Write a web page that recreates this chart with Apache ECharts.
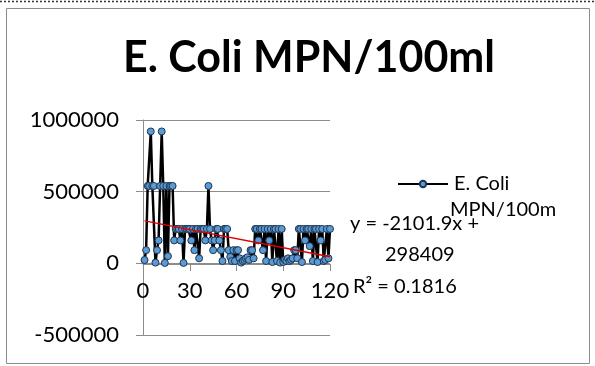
<!DOCTYPE html>
<html>
<head>
<meta charset="utf-8">
<script src="https://cdn.jsdelivr.net/npm/echarts@6/dist/echarts.min.js"></script>
<style>
  html, body { margin: 0; padding: 0; background: #fff; }
  #main { width: 595px; height: 366px; }
</style>
</head>
<body>
<div id="main"></div>
<script>
// sample number (x) and E. Coli MPN/100ml readings
var sampleNo = [];
for (var i = 1; i <= 120; i++) { sampleNo.push(i); }
var ecoli = [
  23000, 92000, 540000, 540000, 920000, 540000, 540000, 5000, 92000, 160000,
  540000, 920000, 540000, 3000, 540000, 50000, 540000, 540000, 540000, 160000,
  240000, 240000, 240000, 160000, 240000, 3000, 240000, 240000, 240000, 240000,
  160000, 240000, 92000, 240000, 240000, 35000, 240000, 240000, 240000, 160000,
  240000, 540000, 240000, 160000, 92000, 160000, 240000, 240000, 160000, 92000,
  16000, 240000, 240000, 240000, 92000, 45000, 16000, 92000, 16000, 92000,
  92000, 35000, 5000, 16000, 24000, 35000, 42000, 24000, 92000, 92000,
  35000, 240000, 240000, 160000, 240000, 240000, 92000, 240000, 16000, 240000,
  160000, 240000, 9000, 240000, 240000, 16000, 240000, 5000, 240000, 9000,
  24000, 16000, 35000, 16000, 24000, 35000, 92000, 92000, 35000, 240000,
  240000, 9000, 240000, 160000, 240000, 240000, 120000, 240000, 16000, 240000,
  240000, 9000, 240000, 160000, 240000, 16000, 24000, 240000, 35000, 240000
];
var xTicks = [0, 30, 60, 90, 120];
var yTicks = [-500000, 0, 500000, 1000000];

// linear trendline as printed on the chart
var trendSlope = -2101.9;
var trendIntercept = 298409;
var trendR2 = 0.1816;

var points = sampleNo.map(function(x, k) { return [x, ecoli[k]]; });
var trendX = [sampleNo[0], sampleNo[sampleNo.length - 1]];
var trendPts = trendX.map(function(x) { return [x, trendSlope * x + trendIntercept]; });

var font = 'Lato, "Open Sans", sans-serif';
var grey = '#8c8c8c';

var myChart = echarts.init(document.getElementById('main'));
var option = {
  backgroundColor: '#fff',
  animation: false,
  title: {
    text: 'E. Coli MPN/100ml',
    left: 304, top: 32, textAlign: 'center',
    textStyle: { fontFamily: font, fontWeight: 'bold', fontSize: 43, color: '#000' }
  },
  legend: {
    data: ['E. Coli MPN/100ml'],
    left: 392, top: 169,
    itemWidth: 50, itemHeight: 8, itemGap: 0,
    formatter: function() { return 'E. Coli'; },
    textStyle: { fontFamily: font, fontSize: 20, color: '#000', padding: [0, 0, 0, 1] }
  },
  grid: { left: 143, right: 265, top: 120, bottom: 31 },
  xAxis: {
    type: 'value', min: xTicks[0], max: xTicks[xTicks.length - 1], interval: 30,
    // sits on the zero line (71px above the bottom of the grid)
    offset: -71,
    axisLine: { onZero: false, lineStyle: { color: grey, width: 1 } },
    axisTick: { show: true, length: 7, lineStyle: { color: grey } },
    axisLabel: { margin: 16, fontFamily: font, fontSize: 22, color: '#000' },
    splitLine: { show: false }
  },
  yAxis: {
    type: 'value', min: yTicks[0], max: yTicks[yTicks.length - 1], interval: 500000,
    axisLine: { show: true, onZero: false, lineStyle: { color: grey, width: 1 } },
    axisTick: { show: true, length: 7, lineStyle: { color: grey } },
    axisLabel: {
      margin: 24, fontFamily: font, fontSize: 22, color: '#000',
      formatter: function(v) { return String(v); }
    },
    splitLine: { show: true, lineStyle: { color: grey, width: 1 } }
  },
  series: [
    {
      name: 'E. Coli MPN/100ml',
      type: 'line',
      data: points,
      symbol: 'circle', symbolSize: 7,
      lineStyle: { color: '#000', width: 2.5 },
      itemStyle: { color: '#5b9bd5', borderColor: '#1f3550', borderWidth: 1 },
      z: 2
    },
    {
      name: 'trend',
      type: 'line',
      data: trendPts,
      symbol: 'none',
      lineStyle: { color: '#e00000', width: 1.5 },
      z: 3
    }
  ],
  graphic: [
    { type: 'rect', shape: { x: 6.5, y: 8.5, width: 583, height: 355 },
      style: { fill: 'none', stroke: grey, lineWidth: 1 }, silent: true },
    { type: 'line', shape: { x1: 0, y1: 1.5, x2: 595, y2: 1.5 },
      style: { stroke: '#333', lineWidth: 1.5, lineDash: [2, 2] }, silent: true },
    { type: 'text', left: 450, top: 200,
      style: { text: 'MPN/100m', fontFamily: font, fontSize: 20, fill: '#000' } },
    { type: 'text', left: 350, top: 214,
      style: { text: 'y = ' + trendSlope + 'x +', fontFamily: font, fontSize: 20, fill: '#000' } },
    { type: 'text', left: 385, top: 245,
      style: { text: String(trendIntercept), fontFamily: font, fontSize: 20, fill: '#000' } },
    { type: 'text', left: 353, top: 277,
      style: { text: 'R² = ' + trendR2, fontFamily: font, fontSize: 20, fill: '#000' } }
  ]
};
myChart.setOption(option);
</script>
</body>
</html>
